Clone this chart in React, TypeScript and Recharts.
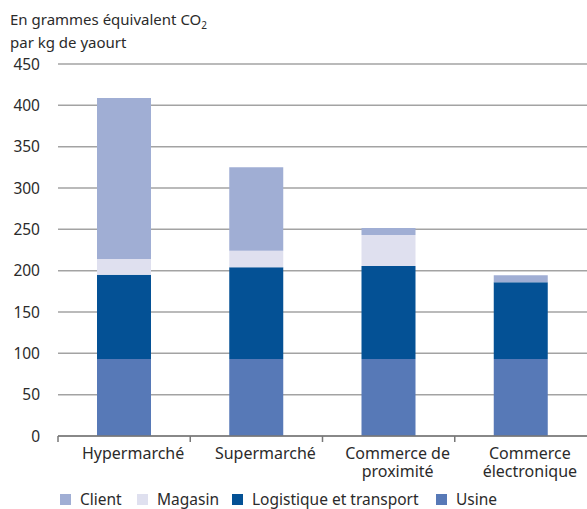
import React from 'react';
import { BarChart, Bar, XAxis, YAxis, CartesianGrid } from 'recharts';

const categories = ['Hypermarché', 'Supermarché', 'Commerce de\nproximité', 'Commerce\nélectronique'];
const usine = [93, 93, 93, 93];
const logistique = [102, 111, 112.5, 93];
const magasin = [19, 20, 37.5, 0];
const client = [195, 101, 8.5, 8.5];
const yTicks = [0, 50, 100, 150, 200, 250, 300, 350, 400, 450];

const seriesDefs = [
  { key: 'client', name: 'Client', color: '#a0aed4' },
  { key: 'magasin', name: 'Magasin', color: '#dfe0ef' },
  { key: 'logistique', name: 'Logistique et transport', color: '#045195' },
  { key: 'usine', name: 'Usine', color: '#5779b7' },
];
const legendLeft = [60, 137, 232, 436];

const data = categories.map((c, i) => ({
  name: c,
  usine: usine[i],
  logistique: logistique[i],
  magasin: magasin[i],
  client: client[i],
}));

const FONT = '"Noto Sans", "Open Sans", sans-serif';
const TEXT = '#2b2b2b';

const XTick = (props: any) => {
  const { x, y, payload, index } = props;
  const lines = String(payload.value).split('\n');
  const band = 132.25;
  return (
    <g>
      {index === 0 && (
        <line x1={x - band / 2} x2={x - band / 2} y1={y - 8} y2={y - 2} stroke="#777" strokeWidth={1.5} />
      )}
      {index < categories.length - 1 && (
        <line x1={x + band / 2} x2={x + band / 2} y1={y - 8} y2={y - 2} stroke="#777" strokeWidth={1.5} />
      )}
      <text x={x + 9} y={y + 15} textAnchor="middle" fontSize={16} fill={TEXT} fontFamily={FONT}>
        {lines.map((l, i) => (
          <tspan key={i} x={x + 9} dy={i === 0 ? 0 : 18}>
            {l}
          </tspan>
        ))}
      </text>
    </g>
  );
};

const YTick = (props: any) => {
  const { y, payload } = props;
  return (
    <text x={40} y={y + 5.5} textAnchor="end" fontSize={15.5} fill={TEXT} fontFamily={FONT}>
      {payload.value}
    </text>
  );
};

export default function App() {
  return (
    <div style={{ position: 'absolute', left: 0, top: 0, width: 587, height: 509, background: '#fff', fontFamily: FONT }}>
      <div style={{ position: 'absolute', left: 10, top: 8, fontSize: 15, lineHeight: '23px', color: TEXT }}>
        En grammes équivalent CO<sub style={{ fontSize: 10, verticalAlign: 'sub', lineHeight: 0 }}>2</sub>
        <br />
        par kg de yaourt
      </div>
      <BarChart
        width={587}
        height={486}
        data={data}
        margin={{ top: 64, right: 0, left: 0, bottom: 0 }}
        barSize={54}
      >
        <CartesianGrid vertical={false} stroke="#a3a3a3" strokeWidth={1.5} />
        <YAxis
          width={58}
          domain={[0, 450]}
          ticks={yTicks}
          axisLine={false}
          tickLine={false}
          tick={<YTick />}
          interval={0}
        />
        <XAxis
          dataKey="name"
          height={50}
          axisLine={{ stroke: '#777', strokeWidth: 1.5 }}
          tickLine={false}
          tick={<XTick />}
          interval={0}
        />
        <Bar dataKey="usine" stackId="a" fill="#5779b7" isAnimationActive={false} />
        <Bar dataKey="logistique" stackId="a" fill="#045195" isAnimationActive={false} />
        <Bar dataKey="magasin" stackId="a" fill="#dfe0ef" isAnimationActive={false} />
        <Bar dataKey="client" stackId="a" fill="#a0aed4" isAnimationActive={false} />
      </BarChart>
      {seriesDefs.map((s, i) => (
        <div
          key={s.key}
          style={{ position: 'absolute', left: legendLeft[i], top: 488, display: 'flex', alignItems: 'center', fontSize: 15.5, color: TEXT, whiteSpace: 'nowrap' }}
        >
          <span style={{ display: 'inline-block', width: 11, height: 11, background: s.color, marginRight: 9 }} />
          <span>{s.name}</span>
        </div>
      ))}
    </div>
  );
}
